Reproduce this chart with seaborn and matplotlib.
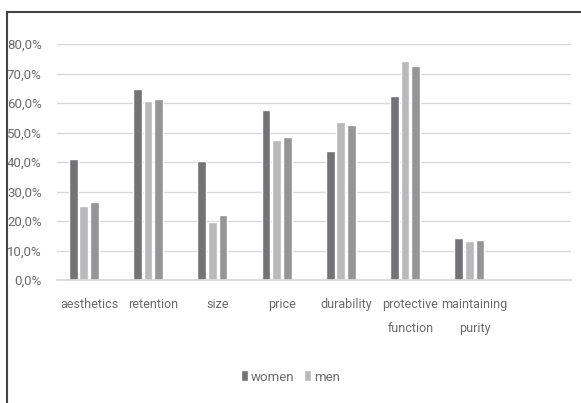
import pandas as pd
import numpy as np
import seaborn as sns
import matplotlib.pyplot as plt
from matplotlib.lines import Line2D

categories = ['aesthetics', 'retention', 'size', 'price', 'durability',
              'protective\nfunction', 'maintaining\npurity', '']
women = [41.0, 64.8, 40.3, 57.6, 43.6, 62.3, 14.1, np.nan]
men = [25.1, 60.7, 19.6, 47.3, 53.6, 74.2, 13.1, np.nan]
third = [26.6, 61.2, 21.9, 48.4, 52.4, 72.6, 13.5, np.nan]
fourth = [np.nan] * 8  # empty series kept in the original chart
series_names = ['women', 'men', 'all', 'empty']
colors = ['#737376', '#b9b9bb', '#959597', '#ffffff']

df = pd.DataFrame({'category': categories * 4,
                   'value': women + men + third + fourth,
                   'series': np.repeat(series_names, len(categories))})

sns.set_theme(style='white')
plt.rcParams['font.family'] = ['Roboto', 'DejaVu Sans']

fig = plt.figure(figsize=(5.81, 4.03), dpi=100)
ax = fig.add_axes([57 / 581, (403 - 280) / 403, (571 - 57) / 581, (280 - 44) / 403])

sns.barplot(data=df, x='category', y='value', hue='series', palette=colors,
            width=0.66, gap=0.18, order=categories, ax=ax, legend=True)

ax.set_ylim(0, 80)
ax.set_yticks(np.arange(0, 81, 10))
ax.set_yticklabels([f'{v:.1f}%'.replace('.', ',') for v in np.arange(0, 81, 10)])
ax.yaxis.grid(True, color='#d9d9d9', linewidth=1)
ax.set_axisbelow(True)
for s in ['top', 'right', 'left']:
    ax.spines[s].set_visible(False)
ax.spines['bottom'].set_color('#d9d9d9')
ax.tick_params(axis='both', colors='#6a6a6a', labelsize=9.5, length=0)
ax.tick_params(axis='x', pad=13, labelsize=9)
ax.tick_params(axis='y', pad=11)
for t in ax.get_xticklabels():
    t.set_linespacing(2.1)
ax.set_xlabel('')
ax.set_ylabel('')

handles, labels = ax.get_legend_handles_labels()
ax.legend(handles[:2], labels[:2], loc='center', bbox_to_anchor=(0.5, (403 - 377) / 403),
          bbox_transform=fig.transFigure, ncol=2, frameon=False, fontsize=9.5,
          handlelength=0.55, handleheight=0.9, handletextpad=0.25, columnspacing=0.7,
          labelcolor='#6a6a6a')

# outer frame (top and left only visible)
fig.add_artist(Line2D([7 / 581, 1], [1 - 12 / 403, 1 - 12 / 403], color='#444444', linewidth=1.5))
fig.add_artist(Line2D([7 / 581, 7 / 581], [0, 1 - 12 / 403], color='#444444', linewidth=1.5))

fig.savefig('out.png', dpi=100)
